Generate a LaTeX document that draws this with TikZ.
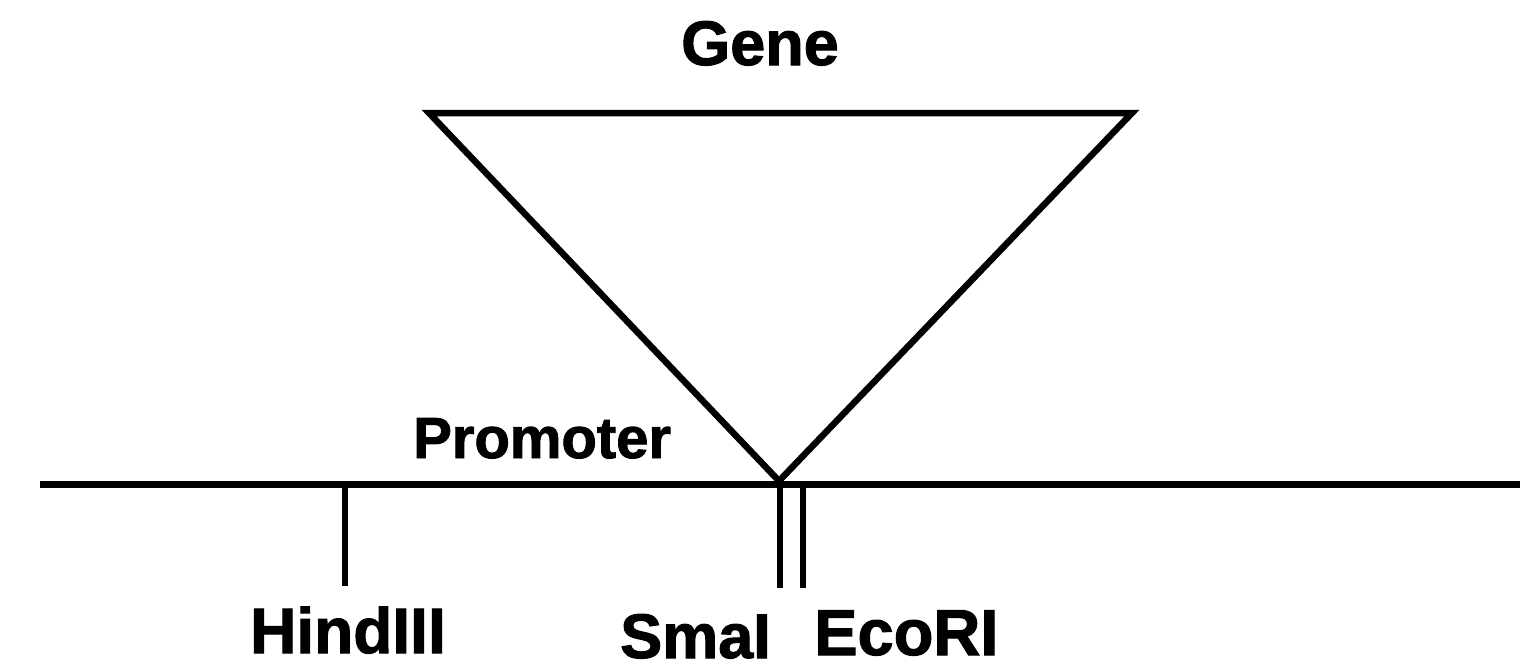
\documentclass[tikz,border=0pt]{standalone}
\usepackage{fontspec}
\setmainfont{Liberation Sans}[BoldFeatures={FakeBold=1.6}]
\begin{document}
\begin{tikzpicture}[x=1pt,y=-1pt,
  dna/.style={line width=7pt,line cap=butt},
  site/.style={line width=6.5pt,line cap=butt},
  gene/.style={line width=6.5pt,line join=miter},
  lab/.style={inner sep=0pt,anchor=base west,font=\bfseries\fontsize{64}{70}\selectfont},
  smalllab/.style={lab,font=\bfseries\fontsize{58}{64}\selectfont}]
\useasboundingbox[fill=white] (0,0) rectangle (1535,672);
% coordinates
\coordinate (L) at (40,484);
\coordinate (R) at (1520,484);
\coordinate (tl) at (429,113);
\coordinate (tr) at (1132,113);
\coordinate (apex) at (779,481);
\coordinate (h1) at (345,484);
\coordinate (h2) at (345,586);
\coordinate (s1) at (780,484);
\coordinate (s2) at (780,588);
\coordinate (e1) at (803,484);
\coordinate (e2) at (803,588);
% DNA line
\draw[dna] (L) -- (R);
% gene triangle
\draw[gene] (apex) -- (tl) -- (tr) -- cycle;
% sites
\draw[site] (h1) -- (h2);
\draw[site] (s1) -- (s2);
\draw[site] (e1) -- (e2);
% labels
\node[lab,font=\bfseries\fontsize{63}{68}\selectfont] (genelab) at (681,65) {Gene};
\node[smalllab] (prom) at (413,458) {Promoter};
\node[lab] (hind) at (250,653) {HindIII};
\node[lab,font=\bfseries\fontsize{63}{68}\selectfont] (sma) at (620,658) {SmaI};
\node[lab,font=\bfseries\fontsize{65}{70}\selectfont] (eco) at (814,655) {EcoRI};
\end{tikzpicture}
\end{document}
